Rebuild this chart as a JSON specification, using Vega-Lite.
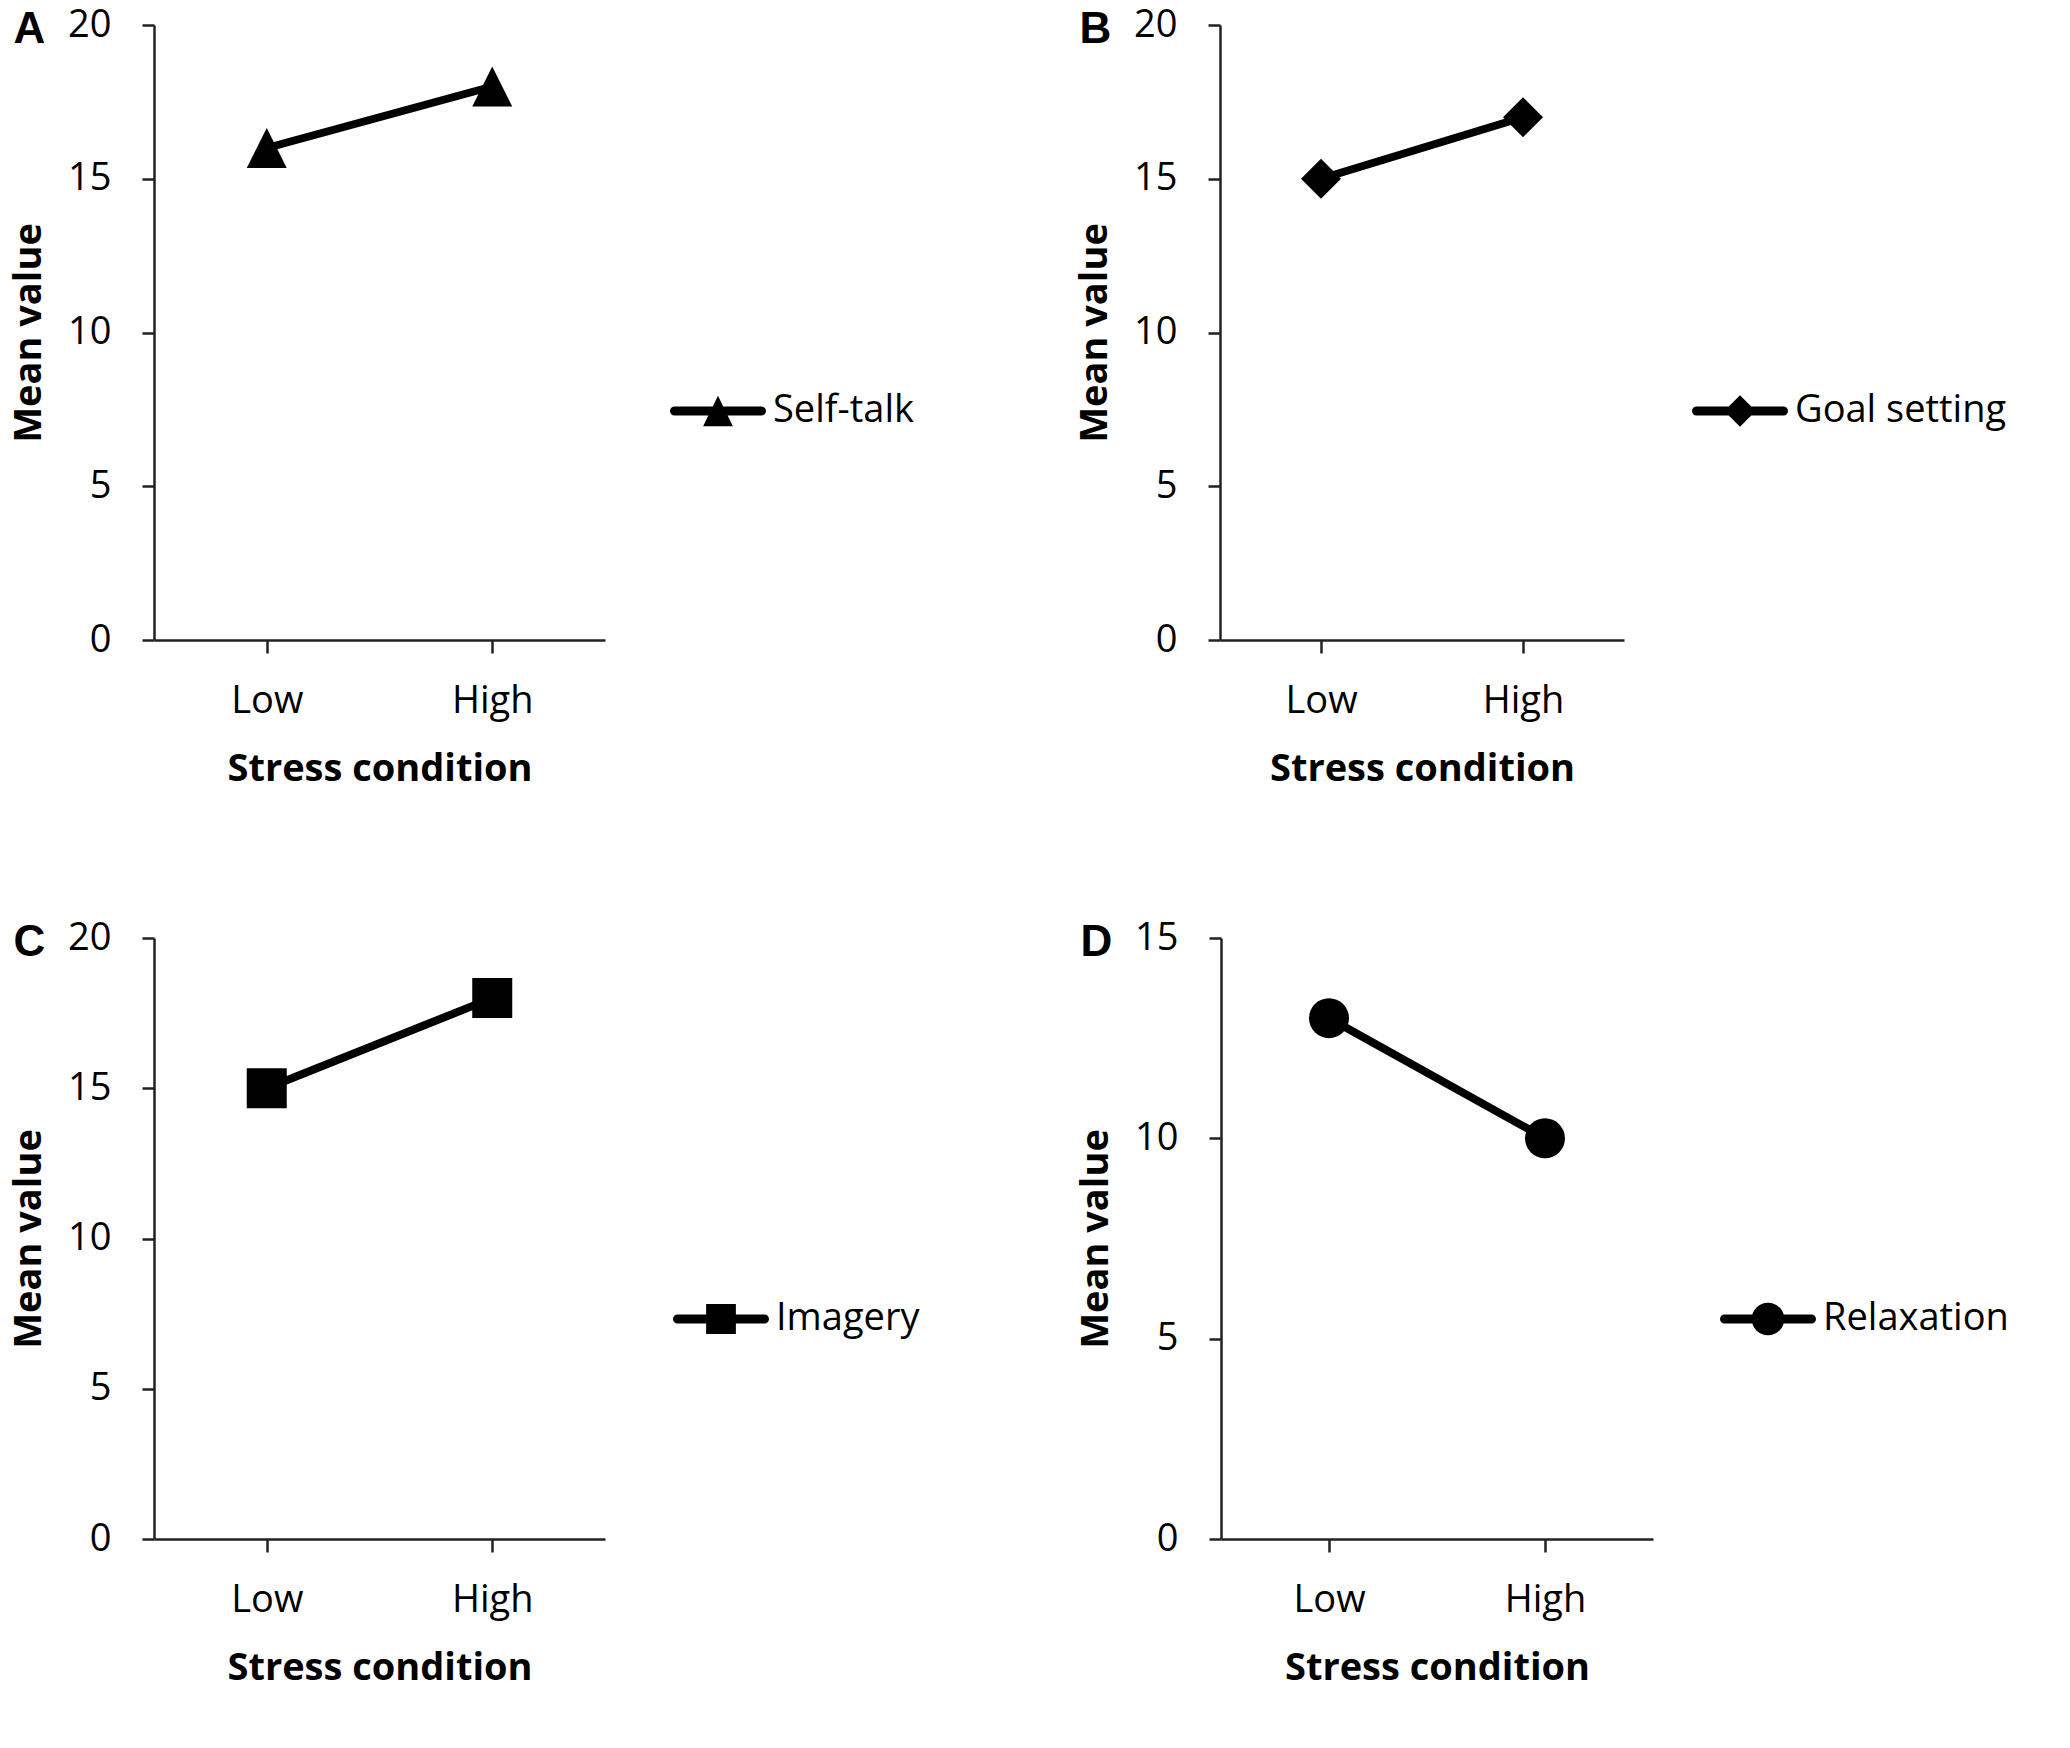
{
  "$schema": "https://vega.github.io/schema/vega-lite/v6.json",
  "background": "white",
  "padding": {"left": 10, "top": 6, "right": 10, "bottom": 12},
  "data": {
    "values": [
      {"panel": "A", "strategy": "Self-talk", "stress": "Low", "mean": 16},
      {"panel": "A", "strategy": "Self-talk", "stress": "High", "mean": 18},
      {"panel": "B", "strategy": "Goal setting", "stress": "Low", "mean": 15},
      {"panel": "B", "strategy": "Goal setting", "stress": "High", "mean": 17},
      {"panel": "C", "strategy": "Imagery", "stress": "Low", "mean": 15},
      {"panel": "C", "strategy": "Imagery", "stress": "High", "mean": 18},
      {"panel": "D", "strategy": "Relaxation", "stress": "Low", "mean": 13},
      {"panel": "D", "strategy": "Relaxation", "stress": "High", "mean": 10}
    ]
  },
  "config": {
    "view": {"stroke": null},
    "axis": {
      "grid": false,
      "domainColor": "#222222",
      "domainWidth": 2.5,
      "tickColor": "#222222",
      "tickWidth": 2.5,
      "labelFont": "Open Sans",
      "labelFontSize": 38,
      "labelColor": "black",
      "titleFont": "Open Sans",
      "titleFontSize": 38,
      "titleFontWeight": "bold",
      "titleColor": "black"
    },
    "axisX": {"labelAngle": 0, "tickSize": 13, "labelPadding": 29, "titlePadding": 30},
    "axisY": {"tickSize": 12, "labelPadding": 31, "titlePadding": 19},
    "title": {"font": "Liberation Sans", "fontSize": 44, "fontWeight": "bold", "color": "black", "anchor": "start", "frame": "bounds", "baseline": "alphabetic", "offset": 0, "dy": 50, "dx": 3},
    "legend": {"title": null, "orient": "none", "padding": 0, "labelFont": "Open Sans", "labelFontSize": 38, "labelColor": "black", "labelOffset": 7, "labelLimit": 0, "symbolSize": 9216, "symbolStrokeWidth": 0, "symbolFillColor": "black"}
  },
  "resolve": {"scale": {"color": "independent"}, "legend": {"color": "independent"}},
  "vconcat": [
    {
      "resolve": {"scale": {"color": "independent"}, "legend": {"color": "independent"}},
      "hconcat": [
        {
          "width": 451, "height": 615,
          "title": {"text": "A"},
          "transform": [{"filter": "datum.panel === 'A'"}],
          "encoding": {
            "x": {"field": "stress", "type": "ordinal", "sort": ["Low", "High"], "scale": {"type": "point", "padding": 0.5}, "axis": {"title": "Stress condition"}},
            "y": {"field": "mean", "type": "quantitative", "scale": {"domain": [0, 20], "nice": false}, "axis": {"values": [0, 5, 10, 15, 20], "title": "Mean value"}},
            "color": {"field": "strategy", "type": "nominal", "scale": {"range": ["black"]},
              "legend": {"legendX": 516, "legendY": 338, "symbolType": "M-0.906,-0.094H0.906A0.094,0.094,0,0,1,0.906,0.094H-0.906A0.094,0.094,0,0,1,-0.906,-0.094ZM0,-0.32L0.31,0.32L-0.31,0.32Z",
                "encode": {"symbols": {"update": {"fill": {"value": "black"}, "stroke": {"value": "transparent"}, "strokeWidth": {"value": 0}, "opacity": {"value": 1}}}}}}
          },
          "layer": [
            {"mark": {"type": "line", "strokeWidth": 8}},
            {"mark": {"type": "point", "filled": true, "opacity": 1, "size": 1600, "shape": "M0,-1L1,1L-1,1Z"}}
          ]
        },
        {
          "width": 404, "height": 615,
          "title": {"text": "B"},
          "transform": [{"filter": "datum.panel === 'B'"}],
          "encoding": {
            "x": {"field": "stress", "type": "ordinal", "sort": ["Low", "High"], "scale": {"type": "point", "padding": 0.5}, "axis": {"title": "Stress condition"}},
            "y": {"field": "mean", "type": "quantitative", "scale": {"domain": [0, 20], "nice": false}, "axis": {"values": [0, 5, 10, 15, 20], "title": "Mean value"}},
            "color": {"field": "strategy", "type": "nominal", "scale": {"range": ["black"]},
              "legend": {"legendX": 472, "legendY": 338, "symbolType": "M-0.906,-0.094H0.906A0.094,0.094,0,0,1,0.906,0.094H-0.906A0.094,0.094,0,0,1,-0.906,-0.094ZM0,-0.33L0.33,0L0,0.33L-0.33,0Z",
                "encode": {"symbols": {"update": {"fill": {"value": "black"}, "stroke": {"value": "transparent"}, "strokeWidth": {"value": 0}, "opacity": {"value": 1}}}}}}
          },
          "layer": [
            {"mark": {"type": "line", "strokeWidth": 8}},
            {"mark": {"type": "point", "filled": true, "opacity": 1, "size": 1600, "shape": "diamond"}}
          ]
        }
      ],
      "spacing": 162
    },
    {
      "resolve": {"scale": {"color": "independent"}, "legend": {"color": "independent"}},
      "hconcat": [
        {
          "width": 451, "height": 601,
          "title": {"text": "C"},
          "transform": [{"filter": "datum.panel === 'C'"}],
          "encoding": {
            "x": {"field": "stress", "type": "ordinal", "sort": ["Low", "High"], "scale": {"type": "point", "padding": 0.5}, "axis": {"title": "Stress condition"}},
            "y": {"field": "mean", "type": "quantitative", "scale": {"domain": [0, 20], "nice": false}, "axis": {"values": [0, 5, 10, 15, 20], "title": "Mean value"}},
            "color": {"field": "strategy", "type": "nominal", "scale": {"range": ["black"]},
              "legend": {"legendX": 519, "legendY": 333, "symbolType": "M-0.906,-0.094H0.906A0.094,0.094,0,0,1,0.906,0.094H-0.906A0.094,0.094,0,0,1,-0.906,-0.094ZM-0.31,-0.31H0.31V0.31H-0.31Z",
                "encode": {"symbols": {"update": {"fill": {"value": "black"}, "stroke": {"value": "transparent"}, "strokeWidth": {"value": 0}, "opacity": {"value": 1}}}}}}
          },
          "layer": [
            {"mark": {"type": "line", "strokeWidth": 8}},
            {"mark": {"type": "point", "filled": true, "opacity": 1, "size": 1600, "shape": "square"}}
          ]
        },
        {
          "width": 432, "height": 601,
          "title": {"text": "D"},
          "transform": [{"filter": "datum.panel === 'D'"}],
          "encoding": {
            "x": {"field": "stress", "type": "ordinal", "sort": ["Low", "High"], "scale": {"type": "point", "padding": 0.5}, "axis": {"title": "Stress condition"}},
            "y": {"field": "mean", "type": "quantitative", "scale": {"domain": [0, 15], "nice": false}, "axis": {"values": [0, 5, 10, 15], "title": "Mean value"}},
            "color": {"field": "strategy", "type": "nominal", "scale": {"range": ["black"]},
              "legend": {"legendX": 499, "legendY": 333, "symbolType": "M-0.906,-0.094H0.906A0.094,0.094,0,0,1,0.906,0.094H-0.906A0.094,0.094,0,0,1,-0.906,-0.094ZM-0.34,0A0.34,0.34,0,1,1,0.34,0A0.34,0.34,0,1,1,-0.34,0Z",
                "encode": {"symbols": {"update": {"fill": {"value": "black"}, "stroke": {"value": "transparent"}, "strokeWidth": {"value": 0}, "opacity": {"value": 1}}}}}}
          },
          "layer": [
            {"mark": {"type": "line", "strokeWidth": 8}},
            {"mark": {"type": "point", "filled": true, "opacity": 1, "size": 1600, "shape": "circle"}}
          ]
        }
      ],
      "spacing": 157
    }
  ],
  "spacing": 131
}
